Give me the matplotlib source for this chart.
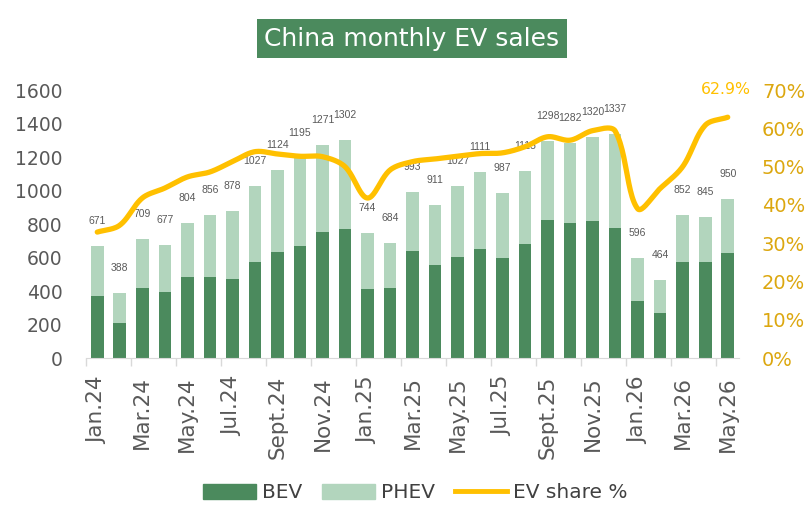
import matplotlib
matplotlib.use('Agg')
import matplotlib.pyplot as plt
from matplotlib.patches import Patch
from matplotlib.lines import Line2D
import numpy as np

months = ['Jan.24', 'Feb.24', 'Mar.24', 'Apr.24', 'May.24', 'Jun.24', 'Jul.24', 'Aug.24',
          'Sept.24', 'Oct.24', 'Nov.24', 'Dec.24',
          'Jan.25', 'Feb.25', 'Mar.25', 'Apr.25', 'May.25', 'Jun.25', 'Jul.25', 'Aug.25',
          'Sept.25', 'Oct.25', 'Nov.25', 'Dec.25',
          'Jan.26', 'Feb.26', 'Mar.26', 'Apr.26', 'May.26']
total = [671, 388, 709, 677, 804, 856, 878, 1027, 1124, 1195, 1271, 1302,
         744, 684, 993, 911, 1027, 1111, 987, 1115, 1298, 1282, 1320, 1337,
         596, 464, 852, 845, 950]
bev = [370, 211, 418, 396, 485, 484, 472, 575, 635, 667, 752, 770,
       410, 418, 639, 555, 603, 651, 597, 683, 824, 806, 820, 776,
       340, 269, 575, 571, 629]
share = [32.9, 34.7, 41.8, 44.4, 47.3, 48.6, 51.3, 53.9, 53.3, 52.7, 52.6, 50.0,
         41.8, 49.1, 51.3, 52.0, 52.7, 53.4, 53.6, 55.2, 57.8, 56.9, 59.4, 59.3,
         39.0, 44.3, 50.0, 60.8, 62.9]
phev = [t - b for t, b in zip(total, bev)]

C_BEV = '#4B8A5D'
C_PHEV = '#B2D5BD'
C_LINE = '#FFC000'
C_RTICK = '#DCA70F'
C_TXT = '#595959'
TICKFONT = 'DejaVu Sans'


def smooth(x, y, yscale, n=24):
    # excel-like smoothed line: bezier segments, control arms scaled by segment length
    P = np.column_stack([np.asarray(x, float), np.asarray(y, float) * yscale])
    m = len(P)
    cout, cin = np.zeros_like(P), np.zeros_like(P)
    for i in range(m):
        a = P[max(i - 1, 0)]
        b = P[min(i + 1, m - 1)]
        T = b - a
        dp = np.hypot(*(P[i] - a))
        dn = np.hypot(*(b - P[i]))
        tot = dp + dn
        cout[i] = P[i] + T / 3 * (dn / tot)
        cin[i] = P[i] - T / 3 * (dp / tot)
    pts = []
    t = np.linspace(0, 1, n, endpoint=False)[:, None]
    for i in range(m - 1):
        p0, c1, c2, p1 = P[i], cout[i], cin[i + 1], P[i + 1]
        pts.append((1 - t) ** 3 * p0 + 3 * (1 - t) ** 2 * t * c1
                   + 3 * (1 - t) * t ** 2 * c2 + t ** 3 * p1)
    pts.append(P[-1:])
    pts = np.vstack(pts)
    return pts[:, 0], pts[:, 1] / yscale


fig = plt.figure(figsize=(8.07, 5.05), dpi=100)
ax = fig.add_axes([0.1066, 0.291, 0.8091, 0.5307])
x = np.arange(len(months))

ax.bar(x, bev, width=0.56, color=C_BEV, zorder=2)
ax.bar(x, phev, width=0.56, bottom=bev, color=C_PHEV, zorder=2)
for xi, t in zip(x, total):
    ax.annotate(str(t), (xi, t), xytext=(0, 18), textcoords='offset points',
                ha='center', va='center', fontsize=7.5, color=C_TXT,
                family='Liberation Sans')

ax.set_xlim(-0.5, len(months) - 0.5)
ax.set_ylim(0, 1600)
ax.set_yticks(range(0, 1601, 200))
ax.tick_params(axis='y', length=0, labelsize=13.5, labelcolor=C_TXT, pad=17)
ax.set_xticks(x[::2])
ax.set_xticklabels(months[::2], rotation=90, fontsize=15.5, color=C_TXT,
                   family=TICKFONT)
ax.tick_params(axis='x', which='major', length=0, pad=13)
ax.set_xticks(np.arange(-0.5, len(months), 2), minor=True)
ax.tick_params(axis='x', which='minor', length=6, color='#D9D9D9', width=1)
for lab in ax.get_yticklabels():
    lab.set_family(TICKFONT)
for s in ['top', 'right', 'left']:
    ax.spines[s].set_visible(False)
ax.spines['bottom'].set_color('#D9D9D9')

ax2 = ax.twinx()
# one % on the right axis is about 0.17 of a category width on screen
sx, sy = smooth(x, share, 0.17)
ax2.plot(sx, sy, color=C_LINE, lw=3.8, solid_capstyle='round', zorder=3)
ax2.set_ylim(0, 70)
ax2.set_yticks(range(0, 71, 10))
ax2.set_yticklabels([f'{v}%' for v in range(0, 71, 10)], family=TICKFONT)
ax2.tick_params(axis='y', length=0, labelsize=14, labelcolor=C_RTICK, pad=16.5)
for s in ax2.spines.values():
    s.set_visible(False)
ax2.annotate(f'{share[-1]}%', (x[-1], share[-1]), xytext=(-1, 20),
             textcoords='offset points', ha='center', va='center',
             fontsize=11.3, color=C_LINE, family=TICKFONT)

fig.text(0.5105, 0.9228, 'China monthly EV sales', ha='center', va='center',
         fontsize=18, color='white', family=TICKFONT,
         bbox=dict(boxstyle='square,pad=0.3', fc=C_BEV, ec='none'))

handles = [Patch(color=C_BEV, label='BEV'), Patch(color=C_PHEV, label='PHEV'),
           Line2D([0], [0], color=C_LINE, lw=3.5, label='EV share %')]
fig.legend(handles=handles, loc='center', bbox_to_anchor=(0.515, 0.024), ncol=3,
           frameon=False, handlelength=2.6, handleheight=0.75,
           columnspacing=1.0, handletextpad=0.3,
           prop={'family': TICKFONT, 'size': 14.5},
           labelcolor='#404040')

fig.savefig('out.png', dpi=100)
